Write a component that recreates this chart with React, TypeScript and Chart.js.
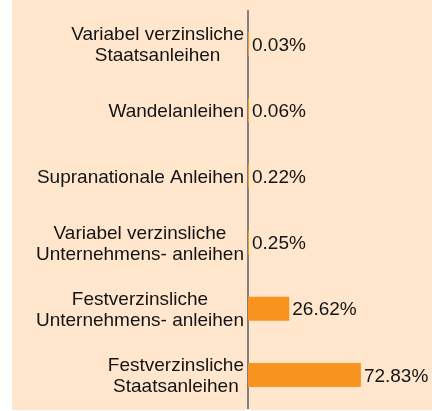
import React, { useEffect, useRef } from "react";
import { Chart, registerables } from "chart.js";

Chart.register(...registerables);

const categories: string[][] = [
  ["Variabel verzinsliche", "Staatsanleihen"],
  ["Wandelanleihen"],
  ["Supranationale Anleihen"],
  ["Variabel verzinsliche", "Unternehmens- anleihen"],
  ["Festverzinsliche", "Unternehmens- anleihen"],
  ["Festverzinsliche", "Staatsanleihen"],
];
const values: number[] = [0.03, 0.06, 0.22, 0.25, 26.62, 72.83];

const BG = "#FFE6CC";
const BAR = "#F7931E";
const TEXT = "#141414";
const FONT = '19px "Liberation Sans", Arial, sans-serif';

const labelPlugin = {
  id: "customLabels",
  afterDatasetsDraw(chart: any) {
    const ctx = chart.ctx;
    const yScale = chart.scales.y;
    const area = chart.chartArea;
    const meta = chart.getDatasetMeta(0);
    ctx.save();
    ctx.font = FONT;
    ctx.fillStyle = TEXT;
    ctx.textBaseline = "middle";
    const lineH = 21;
    const dy = 1.5;
    categories.forEach((lines, i) => {
      const y = yScale.getPixelForValue(i) + dy;
      const widths = lines.map((l) => ctx.measureText(l).width);
      const blockW = Math.max(...widths);
      const cx = area.left - 4 - blockW / 2;
      ctx.textAlign = "center";
      const y0 = y - ((lines.length - 1) * lineH) / 2;
      lines.forEach((l, j) => ctx.fillText(l, cx, y0 + j * lineH));
      const bar = meta.data[i];
      ctx.textAlign = "left";
      ctx.fillText(values[i].toFixed(2) + "%", bar.x + 3, bar.y + dy);
    });
    ctx.restore();
  },
};

export default function App() {
  const ref = useRef<HTMLCanvasElement | null>(null);
  useEffect(() => {
    if (!ref.current) return;
    const chart = new Chart(ref.current, {
      type: "bar",
      data: {
        labels: categories,
        datasets: [
          {
            data: values,
            backgroundColor: BAR,
            borderWidth: 0,
            barPercentage: 0.363,
            categoryPercentage: 1,
            minBarLength: 1,
          },
        ],
      },
      options: {
        indexAxis: "y",
        responsive: false,
        animation: false,
        events: [],
        layout: { padding: { top: 11, bottom: 2, right: 29, left: 0 } },
        plugins: { legend: { display: false }, tooltip: { enabled: false } },
        scales: {
          x: { display: false, min: 0, max: 100 },
          y: {
            grid: { display: false },
            border: { display: true, color: "#808080", width: 2 },
            ticks: { display: false },
            afterFit: (s: any) => {
              s.width = 236;
            },
          },
        },
      },
      plugins: [labelPlugin],
    });
    return () => chart.destroy();
  }, []);
  return (
    <div
      style={{
        position: "absolute",
        left: 12,
        top: 0,
        width: 420,
        height: 410,
        background: BG,
      }}
    >
      <canvas ref={ref} width={420} height={410} style={{ display: "block" }} />
    </div>
  );
}
